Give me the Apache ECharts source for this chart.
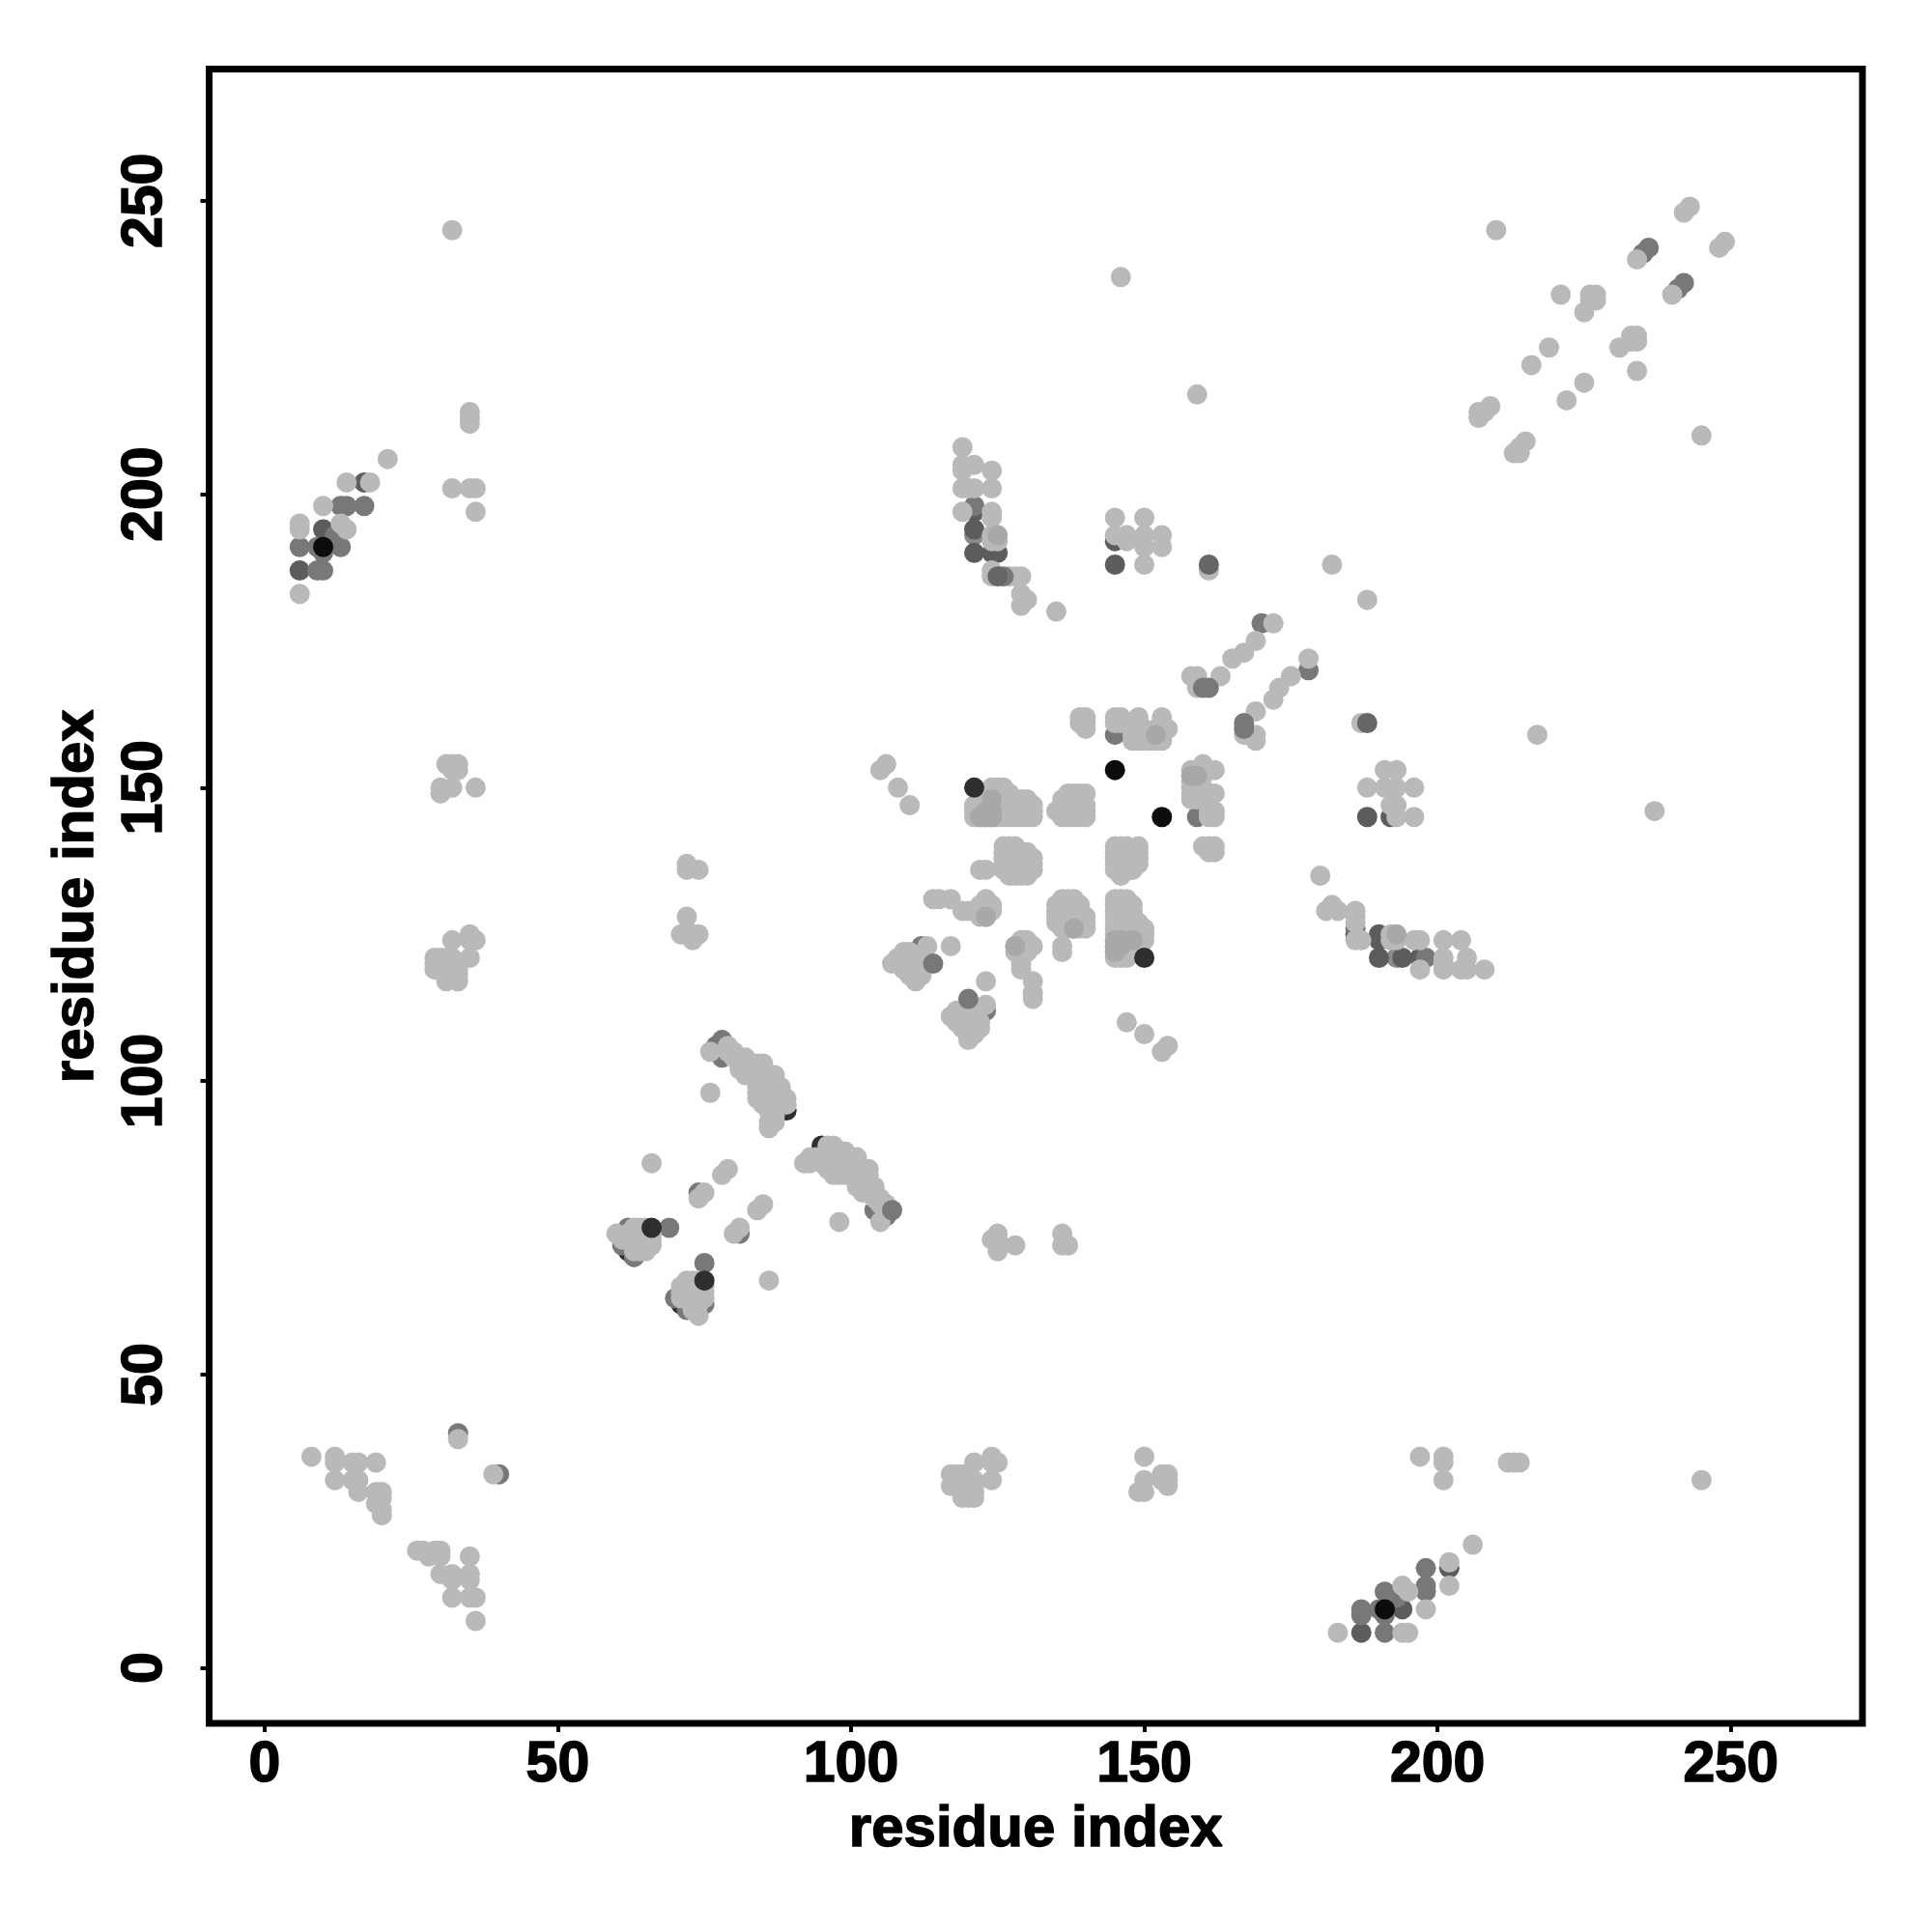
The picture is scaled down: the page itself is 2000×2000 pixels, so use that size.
<!DOCTYPE html>
<html><head><meta charset="utf-8">
<script src="https://cdn.jsdelivr.net/npm/echarts@6/dist/echarts.min.js"></script>
<style>html,body{margin:0;background:#fff}#c{width:2000px;height:2000px}</style></head>
<body><div id="c"></div>
<script>
const tickValues = [0, 50, 100, 150, 200, 250];
const axisTitle = 'residue index';

const grayUnder = [[121,193],[193,121]];
const blackUnder = [[62,72],[72,62]];
const darkUnder = [[89,95],[95,89],[62,71],[71,62]];
const dark2Under = [[6,187],[187,6],[121,190],[190,121],[121,197],[197,121],[124,190],[190,124],[125,190],[190,125],[186,125],[145,192],[192,145],[10,194],[194,10],[17,202],[202,17],[121,194],[194,121],[145,188],[188,145]];
const midUnder = [[9,187],[187,9],[10,187],[187,10],[6,191],[191,6],[9,191],[191,9],[10,190],[190,10],[13,191],[191,13],[12,193],[193,12],[13,198],[198,13],[14,198],[198,14],[17,198],[198,17],[33,40],[40,33],[62,75],[75,62],[69,75],[75,69],[61,72],[72,61],[63,70],[70,63],[77,105],[105,77],[77,106],[106,77],[78,104],[104,78],[78,105],[105,78],[78,106],[106,78],[78,107],[85,97],[97,85],[74,81],[81,74],[170,178],[178,170],[112,123],[123,112],[112,121],[121,112],[145,159],[159,145],[121,198],[198,121],[186,126],[236,242],[242,236],[235,241],[241,235]];

const light = [
[6,183],[6,194],[6,195],[13,195],[14,194],[10,198],[14,202],[18,202],[21,206],[32,201],[35,201],[36,201],[36,197],[35,212],[35,213],[35,214],
[183,6],[194,6],[195,6],[195,13],[194,14],[198,10],[202,14],[202,18],[206,21],[201,32],[201,35],[201,36],[197,36],[212,35],[213,35],[214,35],
[8,36],[12,36],[12,35],[12,32],[15,35],[16,35],[19,35],[16,32],[15,32],[16,30],[19,30],[20,30],[19,28],[20,29],[20,27],[20,26],[33,39],
[36,8],[36,12],[35,12],[32,12],[35,15],[35,16],[35,19],[32,16],[32,15],[30,16],[30,19],[30,20],[28,19],[29,20],[27,20],[26,20],[39,33],
[30,149],[30,150],[32,150],[36,150],[33,153],[33,154],[31,154],[32,153],[32,154],
[149,30],[150,30],[150,32],[150,36],[153,33],[154,33],[154,31],[153,32],[154,32],
[33,117],[31,117],[32,118],[33,118],[33,119],[31,119],[29,119],[29,120],[29,121],[31,120],[31,121],[32,121],[32,124],[35,121],[35,124],[35,125],[36,124],[33,120],[30,119],[30,121],
[117,33],[117,31],[118,32],[118,33],[119,33],[119,31],[119,29],[120,29],[121,29],[120,31],[121,31],[121,32],[124,32],[121,35],[124,35],[125,35],[124,36],[120,33],[119,30],[121,30],
[73,124],[74,125],[71,125],[72,125],[72,128],[72,136],[72,137],[74,136],[73,125],
[124,73],[125,74],[125,71],[125,72],[128,72],[136,72],[137,72],[136,74],[125,73],
[60,74],[63,75],[64,75],[65,75],[65,71],[66,72],[65,73],[63,73],[62,74],[64,74],[66,73],[66,74],[64,71],[64,72],[63,72],[62,73],[65,72],[63,71],[64,73],[65,74],[63,74],[61,73],
[74,60],[75,63],[75,64],[75,65],[71,65],[72,66],[73,65],[73,63],[74,62],[74,64],[73,66],[74,66],[71,64],[72,64],[72,63],[73,62],[72,65],[71,63],[73,64],[74,65],[74,63],[73,61],
[66,86],[76,98],[74,80],[75,81],[78,84],[79,85],
[86,66],[98,76],[80,74],[81,75],[84,78],[85,79],
[76,105],[79,106],[79,105],[80,105],[80,104],[81,104],[82,104],[81,103],[82,103],[81,102],[82,102],[82,101],[83,102],[84,103],[84,102],[85,103],[85,102],[84,101],[85,101],[86,101],[86,100],[87,101],[87,100],[84,100],[84,99],[85,99],[84,98],[84,97],[85,98],[86,99],[86,98],[86,97],[87,99],[87,98],[87,97],[86,96],[86,95],[85,96],[87,96],[87,95],[88,99],[88,98],[88,97],[88,96],[87,94],[87,93],[86,92],[86,93],[89,97],[89,96],
[105,76],[106,79],[105,79],[105,80],[104,80],[104,81],[104,82],[103,81],[103,82],[102,81],[102,82],[101,82],[102,83],[103,84],[102,84],[103,85],[102,85],[101,84],[101,85],[101,86],[100,86],[101,87],[100,87],[100,84],[99,84],[99,85],[98,84],[97,84],[98,85],[99,86],[98,86],[97,86],[99,87],[98,87],[97,87],[96,86],[95,86],[96,85],[96,87],[95,87],[99,88],[98,88],[97,88],[96,88],[94,87],[93,87],[92,86],[93,86],[97,89],[96,89],
[121,145],[122,145],[123,145],[124,145],[125,145],[126,145],[127,145],[128,145],[129,145],[130,145],[131,145],
[121,146],[122,146],[123,146],[124,146],[125,146],[126,146],[127,146],[128,146],[129,146],[130,146],[131,146],
[121,147],[122,147],[123,147],[124,147],[125,147],[126,147],[127,147],[128,147],[129,147],[130,147],[131,147],
[123,148],[124,148],[125,148],[126,148],[127,148],[128,148],[129,148],[130,148],[124,149],[125,149],[126,149],[127,149],[124,150],[125,150],[126,150],
[145,121],[145,122],[145,123],[145,124],[145,125],[145,126],[145,127],[145,128],[145,129],[145,130],[145,131],
[146,121],[146,122],[146,123],[146,124],[146,125],[146,126],[146,127],[146,128],[146,129],[146,130],[146,131],
[147,121],[147,122],[147,123],[147,124],[147,125],[147,126],[147,127],[147,128],[147,129],[147,130],[147,131],
[148,123],[148,124],[148,125],[148,126],[148,127],[148,128],[148,129],[148,130],[149,124],[149,125],[149,126],[149,127],[150,124],[150,125],[150,126],
[136,145],[137,145],[138,145],[139,145],[140,145],[135,146],[136,146],[137,146],[138,146],[139,146],[140,146],[136,147],[137,147],[138,147],[139,147],[140,147],[136,148],[137,148],[138,148],[137,149],[138,149],[139,149],[140,149],
[145,136],[145,137],[145,138],[145,139],[145,140],[146,135],[146,136],[146,137],[146,138],[146,139],[146,140],[147,136],[147,137],[147,138],[147,139],[147,140],[148,136],[148,137],[148,138],[149,137],[149,138],[149,139],[149,140],
[126,140],[127,140],[128,140],[126,139],[127,139],[128,139],[129,139],[130,139],[126,138],[127,138],[128,138],[129,138],[130,138],[131,138],[126,137],[127,137],[128,137],[129,137],[130,137],[131,137],[122,136],[123,136],[126,136],[127,136],[128,136],[129,136],[130,136],[131,136],[127,135],[128,135],[129,135],[130,135],
[140,126],[140,127],[140,128],[139,126],[139,127],[139,128],[139,129],[139,130],[138,126],[138,127],[138,128],[138,129],[138,130],[138,131],[137,126],[137,127],[137,128],[137,129],[137,130],[137,131],[136,122],[136,123],[136,126],[136,127],[136,128],[136,129],[136,130],[136,131],[135,127],[135,128],[135,129],[135,130],
[114,131],[115,131],[117,131],[119,129],[120,129],[122,128],[122,129],[123,128],[123,129],[124,129],[123,130],[124,130],[123,131],[122,130],
[131,114],[131,115],[131,117],[129,119],[129,120],[128,122],[129,122],[128,123],[129,123],[129,124],[130,123],[130,124],[131,123],[130,122],
[113,123],[117,123],[109,122],[110,122],[108,121],[109,121],[110,121],[111,121],[107,120],[108,120],[109,120],[110,120],[111,120],[112,120],[113,120],[109,119],[110,119],[111,119],[112,119],[110,118],[111,118],[112,118],[111,117],
[123,113],[123,117],[122,109],[122,110],[121,108],[121,109],[121,110],[121,111],[120,107],[120,108],[120,109],[120,110],[120,111],[120,112],[120,113],[119,109],[119,110],[119,111],[119,112],[118,110],[118,111],[118,112],[117,111],
[139,161],[139,162],[140,160],[140,161],[140,162],[145,161],[145,162],[146,161],[146,162],[149,161],[149,162],[153,161],[153,162],[148,158],[149,158],[150,158],[151,158],[152,158],[153,158],[148,159],[149,159],[150,159],[151,159],[153,159],[148,160],[149,160],[150,160],[152,160],[153,160],[154,160],
[161,139],[162,139],[160,140],[161,140],[162,140],[161,145],[162,145],[161,146],[162,146],[161,149],[162,149],[161,153],[162,153],[158,148],[158,149],[158,150],[158,151],[158,152],[158,153],[159,148],[159,149],[159,150],[159,151],[159,153],[160,148],[160,149],[160,150],[160,152],[160,153],[160,154],
[105,153],[106,154],[108,150],[110,147],[153,105],[154,106],[150,108],[147,110],
[119,197],[119,201],[119,204],[119,205],[119,208],[120,201],[121,201],[121,205],[124,204],[124,201],[124,197],[124,196],[124,192],[125,192],[124,187],[124,186],[127,186],[128,186],[129,186],[129,183],[130,182],[129,181],[135,180],[124,193],
[197,119],[201,119],[204,119],[205,119],[208,119],[201,120],[201,121],[205,121],[204,124],[201,124],[197,124],[196,124],[192,124],[192,125],[187,124],[186,124],[186,127],[186,128],[186,129],[183,129],[182,130],[181,129],[180,135],[193,124],
[145,193],[145,196],[147,192],[147,193],[150,188],[150,191],[150,193],[150,196],[153,191],[153,193],
[193,145],[196,145],[192,147],[193,147],[188,150],[191,150],[193,150],[196,150],[191,153],[193,153],
[161,187],[159,217],[146,237],[32,245],[210,245],[182,188],[163,169],[165,172],[167,173],[169,175],[172,178],[158,169],[159,169],[159,167],
[187,161],[217,159],[237,146],[245,32],[245,210],[188,182],[169,163],[172,165],[173,167],[175,169],[178,172],[169,158],[169,159],[167,159],
[243,249],[242,248],[234,240],[221,234],[226,234],[227,234],[226,233],[227,233],[225,231],[219,225],[216,222],[209,215],[208,214],[207,213],[207,214],
[249,243],[248,242],[240,234],[234,221],[234,226],[234,227],[233,226],[233,227],[231,225],[225,219],[222,216],[215,209],[214,208],[213,207],[214,207]
];
const gray = [[122,145],[123,145],[124,145],[123,146],[124,146],[145,122],[145,123],[145,124],[146,123],[146,124],[124,148],[148,124],[152,159],[159,152],[158,152],[125,193],[193,125],[123,128],[128,123],[138,126]];
const midOver = [[107,78],[161,167],[160,167],[167,161],[167,160],[114,120],[120,114],[126,186]];
const dark2Over = [[161,188],[188,161],[125,186]];
const darkOver = [[66,75],[75,66],[121,150],[150,121]];
const blackOver = [[145,153],[153,145],[10,191],[191,10]];

const layers = [
  [grayUnder,'#8a8a8a'],[blackUnder,'#0c0c0c'],[darkUnder,'#2e2e2e'],[dark2Under,'#5c5c5c'],[midUnder,'#787878'],
  [light,'#b9b9b9'],[gray,'#a8a8a8'],[midOver,'#787878'],[dark2Over,'#666666'],[darkOver,'#2e2e2e'],[blackOver,'#0c0c0c']
];
const font = 'Liberation Sans';
const thick = {textBorderColor:'#000',textBorderWidth:1.5};
const axisCommon = {
  type:'value', min:-9.44, max:272.44, name:axisTitle, nameLocation:'middle',
  nameTextStyle:Object.assign({fontFamily:font,fontWeight:'bold',fontSize:60,color:'#000'},thick),
  axisLine:{show:false,onZero:false}, splitLine:{show:false},
  axisTick:{show:true,length:9,customValues:tickValues,lineStyle:{color:'#000',width:4}}
};
const chart = echarts.init(document.getElementById('c'),null,{renderer:'canvas'});
chart.setOption({
  animation:false, backgroundColor:'#fff',
  grid:{left:216.5,right:2000-1928,top:71.5,bottom:2000-1784,show:true,borderColor:'#000',borderWidth:7,backgroundColor:'#fff'},
  xAxis:Object.assign({},axisCommon,{nameGap:80,
    axisLabel:Object.assign({customValues:tickValues,margin:14,fontFamily:font,fontWeight:'bold',fontSize:59,color:'#000'},thick)}),
  yAxis:Object.assign({},axisCommon,{nameGap:107,
    axisLabel:Object.assign({customValues:tickValues,rotate:90,margin:36,fontFamily:font,fontWeight:'bold',fontSize:59,color:'#000'},thick)}),
  series:layers.map(([d,c])=>({type:'scatter',data:d,symbol:'circle',symbolSize:21,itemStyle:{color:c,opacity:1},silent:true,large:false}))
});
</script></body></html>
